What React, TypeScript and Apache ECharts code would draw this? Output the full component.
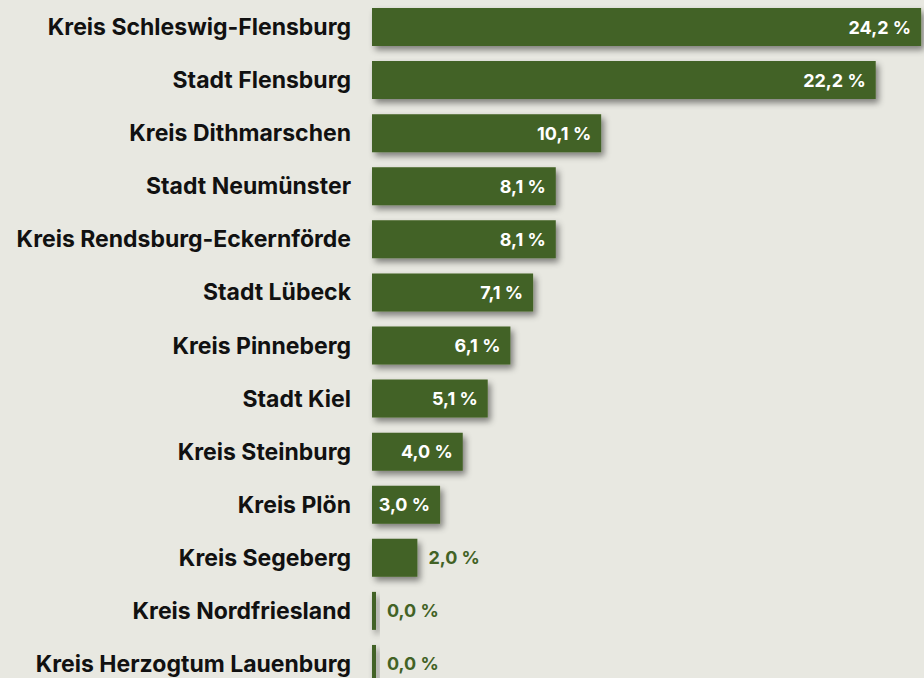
import React, { useEffect, useRef } from "react";
import * as echarts from "echarts";

const categories = [
  "Kreis Schleswig-Flensburg",
  "Stadt Flensburg",
  "Kreis Dithmarschen",
  "Stadt Neumünster",
  "Kreis Rendsburg-Eckernförde",
  "Stadt Lübeck",
  "Kreis Pinneberg",
  "Stadt Kiel",
  "Kreis Steinburg",
  "Kreis Plön",
  "Kreis Segeberg",
  "Kreis Nordfriesland",
  "Kreis Herzogtum Lauenburg",
];
const values = [24.2, 22.2, 10.1, 8.1, 8.1, 7.1, 6.1, 5.1, 4.0, 3.0, 2.0, 0.0, 0.0];

const GREEN = "#426225";
const FONT = "Inter, Liberation Sans, Arial, sans-serif";

export default function App() {
  const ref = useRef<HTMLDivElement>(null);
  useEffect(() => {
    const chart = echarts.init(ref.current!, null, { renderer: "svg" });
    const fmt = (v: number) => v.toFixed(1).replace(".", ",") + " %";
    chart.setOption({
      animation: false,
      backgroundColor: "#e8e8e1",
      grid: {
        left: 372,
        top: 0.5,
        width: 22.69 * 25,
        height: 690,
        outerBoundsMode: "none",
        containLabel: false,
      },
      xAxis: { type: "value", min: 0, max: 25, show: false },
      yAxis: {
        type: "category",
        data: categories,
        inverse: true,
        axisLine: { show: false },
        axisTick: { show: false },
        axisLabel: {
          margin: 21,
          color: "#111",
          fontFamily: FONT,
          fontWeight: "bold",
          fontSize: 23,
        },
      },
      series: [
        {
          type: "bar",
          barWidth: 38,
          barMinHeight: 4,
          data: values.map((v) => ({
            value: v,
            label:
              v >= 3
                ? { position: "insideRight", color: "#fff", distance: 10 }
                : { position: "right", color: GREEN, distance: 11 },
          })),
          itemStyle: {
            color: GREEN,
            shadowBlur: 6,
            shadowColor: "rgba(0,0,0,0.45)",
            shadowOffsetX: 3,
            shadowOffsetY: 4,
          },
          label: {
            show: true,
            fontFamily: FONT,
            fontWeight: "bold",
            fontSize: 18,
            formatter: (p: any) => fmt(p.value),
          },
        },
      ],
    });
    return () => chart.dispose();
  }, []);
  return (
    <div
      ref={ref}
      style={{ position: "fixed", left: 0, top: 0, width: 924, height: 678 }}
    />
  );
}
